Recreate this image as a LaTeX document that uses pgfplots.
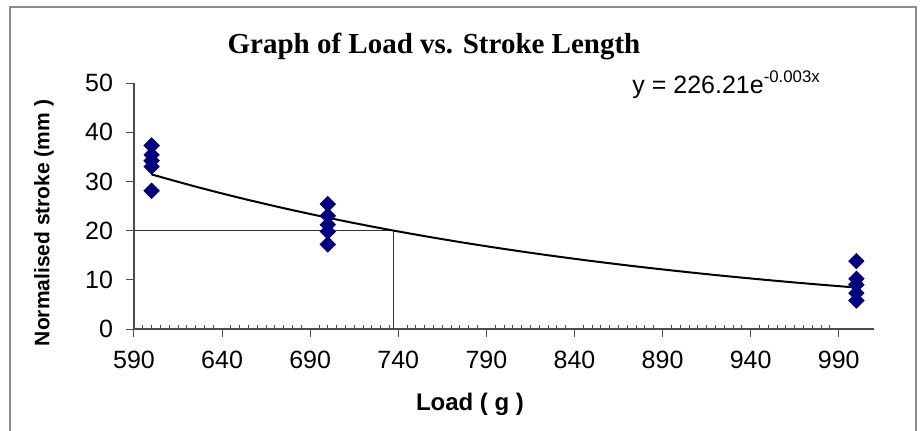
\documentclass[border=0pt]{standalone}
\usepackage{pgfplots}
\pgfplotsset{compat=1.18}
\usepackage{fontspec}
\setmainfont{Liberation Sans}
\newfontfamily\titlefont{Liberation Serif}
\definecolor{navy}{HTML}{000080}
\begin{document}
\begin{tikzpicture}[x=0.5pt,y=0.5pt]
\useasboundingbox (0,0) rectangle (922,430);
% outer chart frame (bottom edge is cut off)
\draw[gray!90,line width=1pt] (10,-5) -- (10,423) -- (916,423) -- (916,-5);
\begin{axis}[
  at={(67pt,50.5pt)}, anchor=south west,
  scale only axis, width=370pt, height=123pt,
  xmin=590, xmax=1010, ymin=0, ymax=50,
  axis x line=bottom, axis y line=left,
  axis line style={-, draw=black!70, line width=0.8pt},
  xtick={590,640,...,990}, ytick={0,10,...,50},
  minor x tick num=9,
  tick align=outside,
  major tick length=4pt, minor tick length=2pt,
  every tick/.style={black!70, line width=0.5pt},
  minor x tick style={yshift=2pt},
  ticklabel style={font=\fontsize{12.5}{15}\selectfont},
  xticklabel style={yshift=-3.5pt},
  yticklabel style={xshift=-3pt},
  /pgf/number format/assume math mode=true,
  /pgf/number format/1000 sep={},
  clip=false,
]
\addplot[black!80, line width=0.5pt] coordinates {(590,20) (737,20) (737,0)};
\addplot[black, line width=1pt, smooth] coordinates {
(600,31.42) (625,28.94) (650,26.66) (675,24.56) (700,22.62) (725,20.83)
(750,19.19) (775,17.67) (800,16.28) (825,14.99) (850,13.81) (875,12.72)
(900,11.72) (925,10.79) (950,9.94) (975,9.15) (1000,8.43)};
\addplot[only marks, mark=square*, mark size=2.7pt, mark options={rotate=45, fill=navy, draw=navy}] coordinates {
(600,37.3) (600,35.4) (600,34.2) (600,33.0) (600,28.1)
(700,25.4) (700,23.0) (700,21.2) (700,19.8) (700,17.2)
(1000,13.8) (1000,10.2) (1000,9.0) (1000,7.3) (1000,5.8)};
\end{axis}
\node[font=\titlefont\bfseries\fontsize{14.5}{17}\selectfont] at (434,384) {Graph of Load vs. Stroke Length};
\node[anchor=base west, font=\fontsize{12.5}{15}\selectfont, inner sep=0pt] at (632,337) {y = 226.21e\raisebox{0.42em}{\fontsize{8.4}{10}\selectfont -0.003x}};
\node[font=\bfseries\fontsize{12}{14}\selectfont] at (470,26) {Load ( g )};
\node[rotate=90, font=\bfseries\fontsize{10.5}{13}\selectfont] at (44,207) {Normalised stroke (mm )};
\end{tikzpicture}
\end{document}
